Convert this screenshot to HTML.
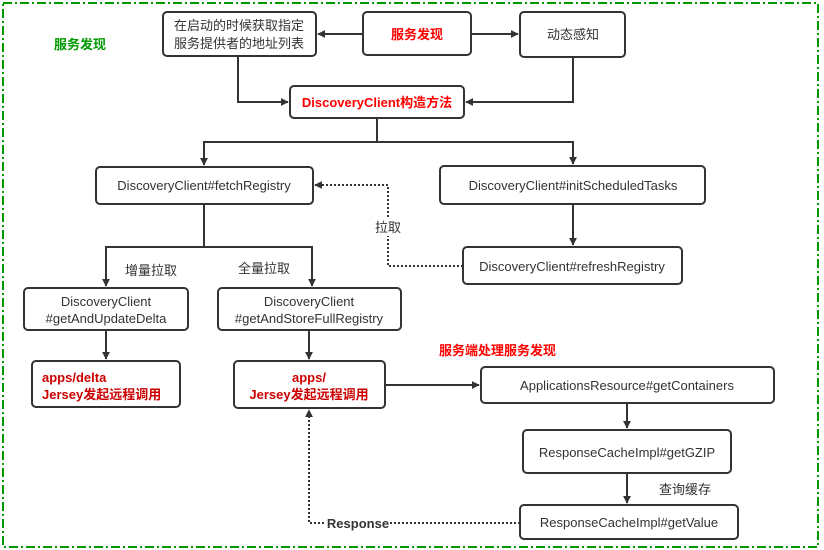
<!DOCTYPE html>
<html><head><meta charset="utf-8"><style>
html,body{margin:0;padding:0;background:#fff;}
svg{display:block;}
text{font-family:"Liberation Sans","Noto Sans CJK SC",sans-serif;font-size:13px;fill:#333;}
.r{fill:#ff0000;font-weight:bold;}
.dr{fill:#cc0000;font-weight:bold;}
.g{fill:#009900;font-weight:bold;}
</style></head><body>
<svg width="824" height="550" viewBox="0 0 824 550">
<defs>
<marker id="a" viewBox="0 0 10 10" refX="9" refY="5" markerWidth="8" markerHeight="8" markerUnits="userSpaceOnUse" orient="auto"><path d="M0,0L10,5L0,10z" fill="#333"/></marker>
</defs>
<rect x="3" y="3" width="815" height="544" fill="none" stroke="#009900" stroke-width="2" stroke-dasharray="9,3,2,3"/>
<g fill="#fff" stroke="#333" stroke-width="2">
<rect x="163" y="12" width="153" height="44" rx="4"/>
<rect x="363" y="12" width="108" height="43" rx="4"/>
<rect x="520" y="12" width="105" height="45" rx="4"/>
<rect x="290" y="86" width="174" height="32" rx="4"/>
<rect x="96" y="167" width="217" height="37" rx="4"/>
<rect x="440" y="166" width="265" height="38" rx="4"/>
<rect x="463" y="247" width="219" height="37" rx="4"/>
<rect x="24" y="288" width="164" height="42" rx="4"/>
<rect x="218" y="288" width="183" height="42" rx="4"/>
<rect x="32" y="361" width="148" height="46" rx="4"/>
<rect x="234" y="361" width="151" height="47" rx="4"/>
<rect x="481" y="367" width="293" height="36" rx="4"/>
<rect x="523" y="430" width="208" height="43" rx="4"/>
<rect x="520" y="505" width="218" height="34" rx="4"/>
</g>
<g fill="none" stroke="#333" stroke-width="2">
<path d="M363 34H318" marker-end="url(#a)"/>
<path d="M471 34H518" marker-end="url(#a)"/>
<path d="M238 56V102H288" marker-end="url(#a)"/>
<path d="M573 57V102H466" marker-end="url(#a)"/>
<path d="M377 118V142H204V165" marker-end="url(#a)"/>
<path d="M377 142H573V164" marker-end="url(#a)"/>
<path d="M573 204V245" marker-end="url(#a)"/>
<path d="M204 204V247H106V286" marker-end="url(#a)"/>
<path d="M204 247H312V286" marker-end="url(#a)"/>
<path d="M106 330V359" marker-end="url(#a)"/>
<path d="M309 330V359" marker-end="url(#a)"/>
<path d="M385 385H479" marker-end="url(#a)"/>
<path d="M627 403V428" marker-end="url(#a)"/>
<path d="M627 473V503" marker-end="url(#a)"/>
<path d="M463 266H388V185H315" stroke-dasharray="2,2" marker-end="url(#a)"/>
<path d="M520 523H309V410" stroke-dasharray="2,2" marker-end="url(#a)"/>
</g>
<rect x="372" y="218" width="32" height="18" fill="#fff"/>
<rect x="326" y="514" width="64" height="18" fill="#fff"/>
<text class="g" x="54" y="49">服务发现</text>
<text x="239" y="30" text-anchor="middle">在启动的时候获取指定</text>
<text x="239" y="48" text-anchor="middle">服务提供者的地址列表</text>
<text class="r" x="417" y="39" text-anchor="middle">服务发现</text>
<text x="573" y="39" text-anchor="middle">动态感知</text>
<text class="r" x="377" y="107" text-anchor="middle">DiscoveryClient构造方法</text>
<text x="204" y="190" text-anchor="middle">DiscoveryClient#fetchRegistry</text>
<text x="573" y="190" text-anchor="middle">DiscoveryClient#initScheduledTasks</text>
<text x="572" y="271" text-anchor="middle">DiscoveryClient#refreshRegistry</text>
<text x="388" y="232" text-anchor="middle">拉取</text>
<text x="151" y="275" text-anchor="middle">增量拉取</text>
<text x="264" y="273" text-anchor="middle">全量拉取</text>
<text x="106" y="306" text-anchor="middle">DiscoveryClient</text>
<text x="106" y="323" text-anchor="middle">#getAndUpdateDelta</text>
<text x="309" y="306" text-anchor="middle">DiscoveryClient</text>
<text x="309" y="323" text-anchor="middle">#getAndStoreFullRegistry</text>
<text class="dr" x="42" y="382">apps/delta</text>
<text class="dr" x="42" y="399">Jersey发起远程调用</text>
<text class="dr" x="309" y="382" text-anchor="middle">apps/</text>
<text class="dr" x="309" y="399" text-anchor="middle">Jersey发起远程调用</text>
<text class="r" x="439" y="355">服务端处理服务发现</text>
<text x="627" y="390" text-anchor="middle">ApplicationsResource#getContainers</text>
<text x="627" y="457" text-anchor="middle">ResponseCacheImpl#getGZIP</text>
<text x="659" y="494">查询缓存</text>
<text x="629" y="527" text-anchor="middle">ResponseCacheImpl#getValue</text>
<text x="358" y="528" text-anchor="middle" style="font-weight:bold">Response</text>
</svg>
</body></html>
